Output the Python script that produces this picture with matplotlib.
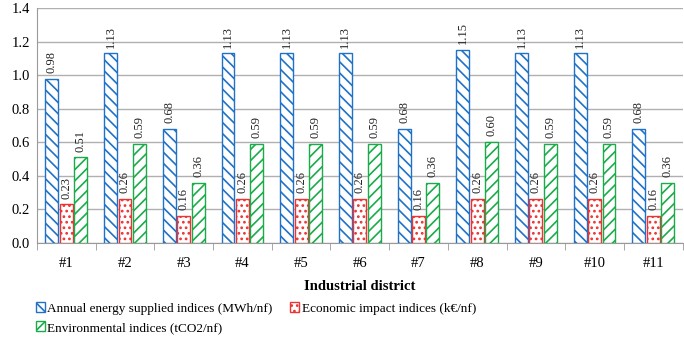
import matplotlib
matplotlib.use("Agg")
import matplotlib.pyplot as plt
import numpy as np
from matplotlib.patches import Patch

plt.rcParams['font.family'] = ['Liberation Serif', 'DejaVu Serif']
plt.rcParams['hatch.linewidth'] = 1.2

# data
districts = ["#1", "#2", "#3", "#4", "#5", "#6", "#7", "#8", "#9", "#10", "#11"]
energy = [0.98, 1.13, 0.68, 1.13, 1.13, 1.13, 0.68, 1.15, 1.13, 1.13, 0.68]
economic = [0.23, 0.26, 0.16, 0.26, 0.26, 0.26, 0.16, 0.26, 0.26, 0.26, 0.16]
environment = [0.51, 0.59, 0.36, 0.59, 0.59, 0.59, 0.36, 0.60, 0.59, 0.59, 0.36]

names = ["Annual energy supplied indices (MWh/nf)",
         "Economic impact indices (k\u20ac/nf)",
         "Environmental indices (tCO2/nf)"]
colors = ["#1f72c8", "#ee3333", "#1aab4a"]
hatches = ["\\\\\\", "...", "///"]

fig = plt.figure(figsize=(6.84, 3.37), dpi=100)
ax = fig.add_axes([0.054, 0.279, 0.944, 0.697])

x = np.arange(len(districts))
w = 0.22
offs = [-0.245, 0.0, 0.245]
series = [energy, economic, environment]

for vals, off, c, h in zip(series, offs, colors, hatches):
    bars = ax.bar(x + off, vals, w, facecolor="white", edgecolor=c,
                  hatch=h, linewidth=1.0, zorder=3)
    for b, v in zip(bars, vals):
        ax.text(b.get_x() + b.get_width() / 2, v + 0.035, f"{v:.2f}",
                rotation=90, ha="center", va="bottom", fontsize=9,
                color="#222222")

ax.set_xlim(-0.5, len(districts) - 0.5)
ax.set_ylim(0, 1.4)
ax.set_yticks(np.arange(0, 1.41, 0.2))
ax.set_yticklabels([f"{t:.1f}" for t in np.arange(0, 1.41, 0.2)], fontsize=10.5)
ax.set_xticks(x)
ax.set_xticklabels(districts, fontsize=10.5)
ax.set_xticks(np.arange(-0.5, len(districts), 1), minor=True)
ax.tick_params(axis="x", which="major", length=0, pad=10)
ax.tick_params(axis="x", which="minor", length=5, color="#999999")
ax.tick_params(axis="y", length=0, pad=5)
ax.yaxis.grid(True, color="#b0b0b0", linewidth=1.0, zorder=0)
ax.set_axisbelow(True)
for s in ["top", "right"]:
    ax.spines[s].set_visible(False)
ax.spines["left"].set_color("#999999")
ax.spines["bottom"].set_color("#999999")

fig.text(0.5 * (0.054 + 0.998), 1 - 287 / 337, "Industrial district",
         fontsize=10.5, fontweight="bold", ha="center", va="center")

handles = [Patch(facecolor="white", edgecolor=c, hatch=h, label=n)
           for n, c, h in zip(names, colors, hatches)]
order = [handles[0], handles[2], handles[1]]
fig.legend(handles=order, loc="upper left", bbox_to_anchor=(0.052, 1 - 302 / 337),
           ncol=2, frameon=False, fontsize=9.5, handlelength=0.7,
           handleheight=0.8, handletextpad=0.2, columnspacing=1.3,
           labelspacing=0.5, borderaxespad=0, borderpad=0)

fig.savefig("out.png", dpi=100)
